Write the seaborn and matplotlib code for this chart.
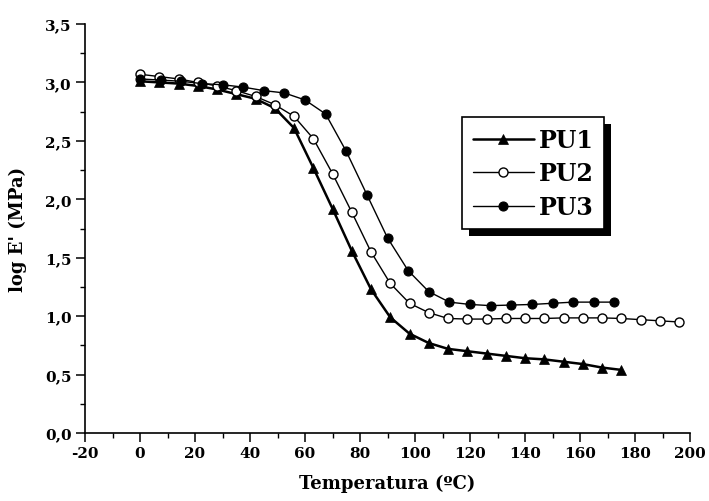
import matplotlib
matplotlib.use("Agg")
import matplotlib.pyplot as plt
from matplotlib.patches import Rectangle
from matplotlib.ticker import MultipleLocator, FuncFormatter
import numpy as np
import pandas as pd
import seaborn as sns

# ---- data ----
pu1_T = [0, 7, 14, 21, 28, 35, 42, 49, 56, 63, 70, 77, 84, 91, 98, 105, 112,
         119, 126, 133, 140, 147, 154, 161, 168, 175]
pu1_E = [3.01, 3.00, 2.99, 2.97, 2.94, 2.90, 2.86, 2.78, 2.61, 2.27, 1.92, 1.56,
         1.23, 0.99, 0.85, 0.77, 0.72, 0.70, 0.68, 0.66, 0.64, 0.63, 0.61, 0.59,
         0.56, 0.54]

pu2_T = [0, 7, 14, 21, 28, 35, 42, 49, 56, 63, 70, 77, 84, 91, 98, 105, 112,
         119, 126, 133, 140, 147, 154, 161, 168, 175, 182, 189, 196]
pu2_E = [3.07, 3.05, 3.03, 3.00, 2.97, 2.93, 2.88, 2.81, 2.71, 2.52, 2.22, 1.89,
         1.55, 1.28, 1.11, 1.03, 0.98, 0.975, 0.975, 0.98, 0.98, 0.98, 0.985,
         0.985, 0.985, 0.98, 0.97, 0.96, 0.95]

pu3_T = [0, 7.5, 15, 22.5, 30, 37.5, 45, 52.5, 60, 67.5, 75, 82.5, 90, 97.5,
         105, 112.5, 120, 127.5, 135, 142.5, 150, 157.5, 165, 172.5]
pu3_E = [3.03, 3.02, 3.01, 2.99, 2.98, 2.96, 2.93, 2.91, 2.85, 2.73, 2.41, 2.04,
         1.67, 1.39, 1.21, 1.12, 1.10, 1.09, 1.095, 1.10, 1.11, 1.12, 1.12, 1.12]

labels = ["PU1", "PU2", "PU3"]
x_label = "Temperatura (ºC)"
y_label = "log E' (MPa)"

sns.set_style("ticks")
plt.rcParams["font.family"] = ["DejaVu Serif", "DejaVu Sans"]
plt.rcParams["font.weight"] = "bold"
plt.rcParams["text.color"] = "black"
plt.rcParams["axes.labelcolor"] = "black"
plt.rcParams["xtick.color"] = "black"
plt.rcParams["ytick.color"] = "black"
plt.rcParams["axes.edgecolor"] = "black"

fig = plt.figure(figsize=(7.09, 5.02), dpi=100)
ax = fig.add_axes([85 / 709, 1 - 434 / 502, 605 / 709, 409 / 502])

df1 = pd.DataFrame({"T": pu1_T, "E": pu1_E})
df2 = pd.DataFrame({"T": pu2_T, "E": pu2_E})
df3 = pd.DataFrame({"T": pu3_T, "E": pu3_E})

sns.lineplot(data=df1, x="T", y="E", ax=ax, color="black", lw=1.8,
             marker="^", markersize=7.5, markerfacecolor="black",
             markeredgecolor="black", markeredgewidth=0.5, label=labels[0])
sns.lineplot(data=df2, x="T", y="E", ax=ax, color="black", lw=1.0,
             marker="o", markersize=6.5, markerfacecolor="white",
             markeredgecolor="black", markeredgewidth=1.0, label=labels[1])
sns.lineplot(data=df3, x="T", y="E", ax=ax, color="black", lw=1.0,
             marker="o", markersize=6.5, markerfacecolor="black",
             markeredgecolor="black", markeredgewidth=0.8, label=labels[2])

ax.set_xlim(-20, 200)
ax.set_ylim(0, 3.5)
ax.xaxis.set_major_locator(MultipleLocator(20))
ax.xaxis.set_minor_locator(MultipleLocator(10))
ax.yaxis.set_major_locator(MultipleLocator(0.5))
ax.yaxis.set_minor_locator(MultipleLocator(0.25))
ax.yaxis.set_major_formatter(FuncFormatter(lambda v, p: f"{v:.1f}".replace(".", ",")))
ax.xaxis.set_major_formatter(FuncFormatter(lambda v, p: f"{v:.0f}"))

for s in ["top", "right"]:
    ax.spines[s].set_visible(False)
for s in ["left", "bottom"]:
    ax.spines[s].set_linewidth(1.2)
    ax.spines[s].set_color("black")

ax.tick_params(which="major", direction="out", length=6.5, width=1.1,
               colors="black", labelsize=11, pad=3)
ax.tick_params(which="minor", direction="out", length=3.5, width=1.0,
               colors="black")
for lab in ax.get_xticklabels() + ax.get_yticklabels():
    lab.set_fontweight("bold")

ax.set_xlabel(x_label, fontsize=13, fontweight="bold", labelpad=10)
ax.set_ylabel(y_label, fontsize=13, fontweight="bold", labelpad=13)

leg = ax.legend(loc="upper left", bbox_to_anchor=(0.623, 0.772),
                borderaxespad=0, fancybox=False, frameon=True,
                edgecolor="black", framealpha=1, handlelength=2.6,
                handletextpad=0.2, labelspacing=0.4, borderpad=0.45,
                prop={"family": "DejaVu Serif", "weight": "bold", "size": 17})
leg.get_frame().set_linewidth(1.2)
leg.set_zorder(6)
for t in leg.get_texts():
    t.set_color("black")

fig.canvas.draw()
bb = leg.get_window_extent().transformed(ax.transAxes.inverted())
dx = 7 / (605)
dy = 7 / (409)
shadow = Rectangle((bb.x0 + dx, bb.y0 - dy), bb.width, bb.height,
                   transform=ax.transAxes, facecolor="black",
                   edgecolor="none", zorder=5.5, clip_on=False)
ax.add_patch(shadow)

fig.savefig("out.png", dpi=100)
